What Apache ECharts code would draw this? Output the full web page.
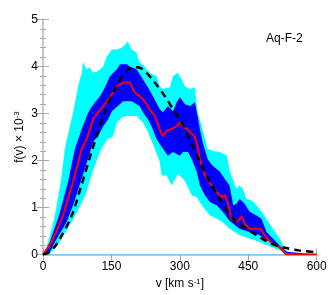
<!DOCTYPE html>
<html>
<head>
<meta charset="utf-8">
<script src="https://cdn.jsdelivr.net/npm/echarts@6/dist/echarts.min.js"></script>
<style>
html,body{margin:0;padding:0;background:#fff;}
#c{width:332px;height:295px;}
</style>
</head>
<body>
<div id="c"></div>
<script>
// x tick labels
const xTicks = [0, 150, 300, 450, 600];
const yTicks = [0, 1, 2, 3, 4, 5];

// outer (cyan) band
const cyanUpV = [0, 7, 15, 26, 39, 48, 59, 66, 77, 85, 88, 96, 103, 110, 120, 132, 140, 151, 162, 173, 186, 195, 205, 212, 223, 234, 249, 256, 263, 278, 285, 296, 304, 311, 322, 333, 337, 339, 348, 361, 375, 388, 403, 410, 424, 431, 438, 446, 458, 468, 475, 490, 504, 519, 530, 541, 600];
const cyanUpF = [0, 0.13, 0.40, 0.83, 1.55, 2.25, 2.73, 3.03, 3.58, 3.87, 4.09, 3.94, 3.98, 3.87, 3.90, 4.00, 4.22, 4.36, 4.36, 4.40, 4.53, 4.36, 4.30, 4.09, 4.00, 3.87, 3.80, 3.58, 3.52, 3.56, 3.80, 3.87, 3.73, 3.58, 3.52, 3.56, 3.52, 3.03, 2.73, 2.25, 2.20, 2.18, 2.11, 1.76, 1.40, 1.47, 1.40, 1.19, 1.15, 1.05, 0.97, 0.76, 0.55, 0.34, 0.13, 0.02, 0];
const cyanLoV = [0, 15, 37, 66, 85, 96, 110, 128, 142, 153, 162, 173, 184, 197, 205, 219, 227, 241, 256, 260, 271, 282, 296, 311, 326, 337, 348, 366, 381, 394, 409, 431, 453, 475, 497, 519, 534, 600];
const cyanLoF = [0, 0.02, 0.27, 0.75, 1.10, 1.35, 1.80, 2.25, 2.46, 2.50, 2.81, 2.92, 2.95, 2.95, 2.95, 2.81, 2.67, 2.35, 1.97, 1.68, 1.68, 1.47, 1.72, 1.57, 1.26, 1.22, 1.05, 0.83, 0.76, 0.69, 0.55, 0.41, 0.34, 0.27, 0.17, 0.09, 0.02, 0];

// inner (blue) band
const blueUpV = [0, 15, 35, 55, 70, 85, 96, 103, 114, 125, 136, 147, 162, 169, 184, 190, 205, 219, 230, 241, 256, 263, 274, 285, 293, 300, 311, 322, 333, 339, 344, 350, 361, 372, 388, 403, 409, 417, 424, 431, 442, 453, 468, 479, 490, 504, 519, 534, 600];
const blueUpF = [0, 0.27, 0.83, 1.55, 2.25, 2.67, 2.95, 3.09, 3.24, 3.37, 3.56, 3.80, 3.94, 4.05, 4.05, 4.00, 3.94, 3.73, 3.56, 3.37, 3.09, 3.03, 3.16, 3.05, 3.24, 3.35, 3.20, 3.16, 3.24, 2.95, 2.67, 2.39, 2.03, 1.89, 1.76, 1.55, 1.47, 1.05, 1.08, 1.19, 1.08, 0.91, 0.83, 0.76, 0.48, 0.34, 0.19, 0.06, 0];
const blueLoV = [0, 15, 26, 52, 66, 81, 99, 110, 121, 132, 143, 151, 164, 176, 195, 205, 212, 219, 230, 238, 249, 263, 274, 285, 300, 307, 318, 326, 337, 344, 355, 366, 381, 394, 409, 431, 453, 475, 497, 519, 534, 600];
const blueLoF = [0, 0.05, 0.27, 0.70, 1.05, 1.50, 2.05, 2.40, 2.52, 2.73, 2.88, 3.05, 3.16, 3.26, 3.26, 3.20, 3.16, 3.03, 2.88, 2.73, 2.46, 2.25, 2.10, 2.18, 2.10, 2.18, 2.18, 2.03, 1.76, 1.47, 1.26, 1.12, 1.05, 0.91, 0.72, 0.55, 0.48, 0.41, 0.27, 0.13, 0.02, 0];

// median (red)
const medV = [0, 19, 44, 55, 66, 85, 96, 110, 121, 132, 147, 162, 176, 190, 201, 212, 223, 234, 245, 256, 263, 271, 282, 293, 300, 307, 317, 333, 339, 344, 355, 370, 381, 392, 398, 405, 413, 424, 436, 442, 453, 466, 477, 488, 504, 517, 528, 533, 600];
const medF = [0, 0.27, 0.83, 1.19, 1.55, 2.25, 2.46, 2.88, 3.03, 3.16, 3.35, 3.58, 3.66, 3.66, 3.45, 3.37, 3.26, 3.09, 2.95, 2.67, 2.52, 2.63, 2.67, 2.73, 2.81, 2.71, 2.67, 2.50, 2.29, 2.03, 1.68, 1.47, 1.33, 1.22, 1.27, 1.12, 0.76, 0.70, 0.81, 0.66, 0.55, 0.55, 0.55, 0.38, 0.22, 0.17, 0.06, 0, 0];

// model (black dashed)
const modV = [0, 10, 20, 35, 63, 85, 107, 136, 158, 180, 200, 219, 245, 267, 285, 304, 326, 348, 366, 388, 417, 446, 475, 504, 533, 560, 600];
const modF = [0, 0.03, 0.10, 0.30, 0.83, 1.50, 2.20, 3.05, 3.52, 3.87, 3.99, 3.94, 3.66, 3.37, 3.09, 2.81, 2.35, 1.89, 1.54, 1.17, 0.76, 0.55, 0.37, 0.22, 0.14, 0.09, 0.05];

const pairs = (xs, ys) => xs.map((x, i) => [x, ys[i]]);

const FONT = 'Liberation Sans';
const axisGray = '#c8c8c8';
const tickGray = '#a8a8a8';

function area(name, xs, ys, color) {
  return {
    name: name, type: 'line', data: pairs(xs, ys),
    showSymbol: false, symbol: 'none',
    lineStyle: { width: 0, opacity: 0, color: color },
    areaStyle: { color: color, opacity: 1, origin: 'start' },
    silent: true
  };
}

const chart = echarts.init(document.getElementById('c'), null, { renderer: 'canvas' });
chart.setOption({
  animation: false,
  backgroundColor: '#fff',
  grid: { left: 43, right: 15.3, top: 19.5, bottom: 39.3 },
  xAxis: [{
    type: 'value', position: 'bottom', min: xTicks[0], max: xTicks[xTicks.length - 1], interval: 150,
    name: 'v [km s{sup|-1}]', nameLocation: 'middle', nameGap: 18,
    nameTextStyle: { fontFamily: FONT, fontSize: 12, color: '#000',
      rich: { sup: { fontFamily: FONT, fontSize: 8, color: '#000', verticalAlign: 'top', padding: [0, 0, 5, 0] } } },
    axisLine: { show: true, lineStyle: { color: axisGray, width: 2 } },
    axisTick: { show: true, inside: true, length: 6, lineStyle: { color: tickGray, width: 1 } },
    axisLabel: { fontFamily: FONT, fontSize: 12, color: '#000', margin: 6 },
    splitLine: { show: false }
  }, {
    type: 'value', position: 'top', min: 0, max: 600, interval: 150,
    axisLine: { show: true, lineStyle: { color: axisGray, width: 2 } },
    axisTick: { show: true, inside: true, length: 6, lineStyle: { color: tickGray, width: 1 } },
    axisLabel: { show: false }, splitLine: { show: false }
  }],
  yAxis: [{
    type: 'value', position: 'left', min: yTicks[0], max: yTicks[yTicks.length - 1], interval: 1,
    name: 'f(v) × 10{sup|-3}', nameLocation: 'middle', nameGap: 17, nameMoveOverlap: false,
    nameTextStyle: { fontFamily: FONT, fontSize: 12, color: '#000',
      rich: { sup: { fontFamily: FONT, fontSize: 8, color: '#000', verticalAlign: 'top', padding: [0, 0, 5, 0] } } },
    axisLine: { show: true, lineStyle: { color: axisGray, width: 2 } },
    axisTick: { show: true, inside: true, length: 6, lineStyle: { color: tickGray, width: 1 } },
    minorTick: { show: true, splitNumber: 5, length: 3, lineStyle: { color: tickGray, width: 1 } },
    axisLabel: { fontFamily: FONT, fontSize: 12, color: '#000', margin: 5 },
    splitLine: { show: false }, minorSplitLine: { show: false }
  }, {
    type: 'value', position: 'right', min: 0, max: 5, interval: 1,
    axisLine: { show: true, lineStyle: { color: axisGray, width: 2 } },
    axisTick: { show: true, inside: true, length: 6, lineStyle: { color: tickGray, width: 1 } },
    minorTick: { show: true, splitNumber: 5, length: 3, lineStyle: { color: tickGray, width: 1 } },
    axisLabel: { show: false }, splitLine: { show: false }
  }],
  graphic: [{
    type: 'text', left: 266, top: 33,
    style: { text: 'Aq-F-2', fontFamily: FONT, fontSize: 12, fill: '#000' }
  }],
  series: [
    area('cyanUp', cyanUpV, cyanUpF, '#00ffff'),
    area('blueUp', blueUpV, blueUpF, '#0000ff'),
    area('blueLo', blueLoV, blueLoF, '#00ffff'),
    area('cyanLo', cyanLoV, cyanLoF, '#ffffff'),
    {
      name: 'median', type: 'line', data: pairs(medV, medF), showSymbol: false, symbol: 'none',
      lineStyle: { color: '#ff0000', width: 2 }, silent: true
    },
    {
      name: 'model', type: 'line', data: pairs(modV, modF), showSymbol: false, symbol: 'none', smooth: 0.3,
      lineStyle: { color: '#000', width: 2.5, type: [7, 5] }, silent: true
    }
  ]
});
</script>
</body>
</html>
